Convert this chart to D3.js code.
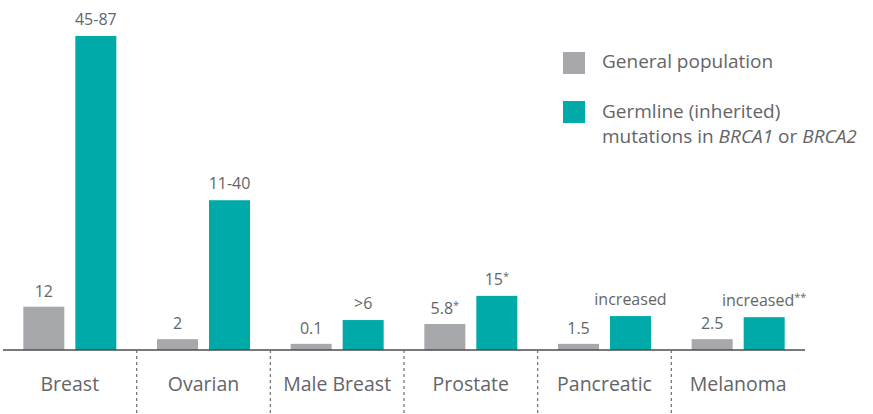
<!DOCTYPE html>
<html>
<head>
<meta charset="utf-8">
<script src="https://cdn.jsdelivr.net/npm/d3@7"></script>
<style>
  html, body { margin: 0; padding: 0; background: #fff; }
  svg { display: block; font-family: "Open Sans", sans-serif; }
</style>
</head>
<body>
<svg id="chart" width="873" height="414"></svg>
<script>
// ---- data ----
const categories = ["Breast", "Ovarian", "Male Breast", "Prostate", "Pancreatic", "Melanoma"];
const generalValues = [12, 3, 1.7, 7.2, 1.7, 3];
const germlineValues = [87, 41.5, 8.3, 15, 9.4, 9.1];
const generalLabels = ["12", "2", "0.1", "5.8*", "1.5", "2.5"];
const germlineLabels = ["45-87", "11-40", ">6", "15*", "increased", "increased**"];
const seriesNames = ["General population", "Germline (inherited)"];

const colors = { general: "#a7a8ab", germline: "#00aaa8" };
const textColor = "#646567";

const svg = d3.select("#chart");
const baseline = 350;

const x = d3.scaleBand().domain(categories).range([3, 805]).paddingInner(0).paddingOuter(0);
const y = d3.scaleLinear().domain([0, 87]).range([baseline, 36]);

const barW = 41, gap = 11;
const groupW = barW * 2 + gap;

const rows = categories.map((c, i) => ({
  cat: c,
  g: generalValues[i], t: germlineValues[i],
  gl: generalLabels[i], tl: germlineLabels[i]
}));

const grp = svg.selectAll("g.cat").data(rows).join("g")
  .attr("class", "cat")
  .attr("transform", d => `translate(${x(d.cat) + x.bandwidth() / 2 - groupW / 2},0)`);

grp.append("rect")
  .attr("x", 0).attr("width", barW)
  .attr("y", d => y(d.g)).attr("height", d => baseline - y(d.g))
  .attr("fill", colors.general);

grp.append("rect")
  .attr("x", barW + gap).attr("width", barW)
  .attr("y", d => y(d.t)).attr("height", d => baseline - y(d.t))
  .attr("fill", colors.germline);

function labelText(sel, s) {
  const m = s.match(/^(.*?)(\*+)$/);
  if (m) {
    sel.append("tspan").text(m[1]);
    sel.append("tspan").attr("font-size", 11).attr("dy", -5).text(m[2]);
  } else {
    sel.text(s);
  }
}

grp.append("text")
  .attr("x", barW / 2).attr("y", d => y(d.g) - 10)
  .attr("text-anchor", "middle").attr("font-size", 16).attr("fill", textColor)
  .each(function (d) { labelText(d3.select(this), d.gl); });

grp.append("text")
  .attr("x", barW + gap + barW / 2).attr("y", d => y(d.t) - 11)
  .attr("text-anchor", "middle").attr("font-size", 16).attr("fill", textColor)
  .each(function (d) { labelText(d3.select(this), d.tl); });

// axis baseline
svg.append("line")
  .attr("x1", x.range()[0]).attr("x2", x.range()[1])
  .attr("y1", baseline).attr("y2", baseline)
  .attr("stroke", "#4d4d4f").attr("stroke-width", 1.5);

// dividers
svg.selectAll("line.div").data(categories.slice(1)).join("line")
  .attr("class", "div")
  .attr("x1", d => x(d)).attr("x2", d => x(d))
  .attr("y1", baseline).attr("y2", 414)
  .attr("stroke", "#6d6e70").attr("stroke-width", 1.2)
  .attr("stroke-dasharray", "3,3");

// category labels
svg.selectAll("text.catlab").data(categories).join("text")
  .attr("class", "catlab")
  .attr("x", d => x(d) + x.bandwidth() / 2)
  .attr("y", 391)
  .attr("text-anchor", "middle").attr("font-size", 19.5).attr("fill", textColor)
  .text(d => d);

// legend
const lg = svg.append("g");
lg.append("rect").attr("x", 563).attr("y", 52).attr("width", 22).attr("height", 22).attr("fill", colors.general);
lg.append("rect").attr("x", 563).attr("y", 101).attr("width", 22).attr("height", 22).attr("fill", colors.germline);
lg.append("text").attr("x", 602).attr("y", 68).attr("font-size", 19).attr("fill", textColor).text(seriesNames[0]);
lg.append("text").attr("x", 602).attr("y", 118).attr("font-size", 19).attr("fill", textColor).text(seriesNames[1]);
const t2 = lg.append("text").attr("x", 602).attr("y", 143).attr("font-size", 19).attr("fill", textColor);
t2.append("tspan").text("mutations in ");
t2.append("tspan").attr("font-style", "italic").text("BRCA1");
t2.append("tspan").text(" or ");
t2.append("tspan").attr("font-style", "italic").text("BRCA2");
</script>
</body>
</html>
